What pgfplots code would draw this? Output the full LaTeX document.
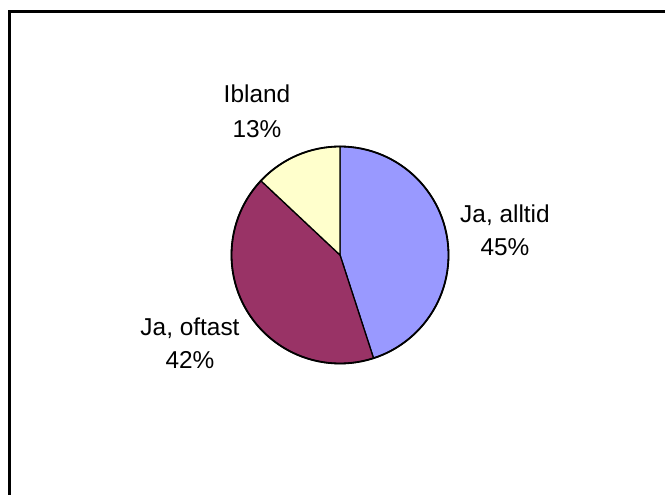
\documentclass[border=0pt]{standalone}
\usepackage{fontspec}
\setmainfont{Liberation Sans}
\usepackage{pgfplots}
\usepackage{pgfplotstable}
\pgfplotsset{compat=1.18}

\definecolor{pieA}{HTML}{9999FF}
\definecolor{pieB}{HTML}{993366}
\definecolor{pieC}{HTML}{FFFFCC}

% shares in percent: Ja, alltid / Ja, oftast / Ibland
\pgfplotstableread{
share
45
42
13
}\piedata

\begin{document}
\begin{tikzpicture}[
    lbl/.style={font=\fontsize{24.5}{29}\selectfont, anchor=base, inner sep=0pt},
  ]
  \pgfplotstablegetelem{0}{share}\of\piedata \let\va\pgfplotsretval
  \pgfplotstablegetelem{1}{share}\of\piedata \let\vb\pgfplotsretval
  \pgfplotstablegetelem{2}{share}\of\piedata \let\vc\pgfplotsretval
  \pgfmathsetmacro\angA{90-3.6*\va}
  \pgfmathsetmacro\angB{\angA-3.6*\vb}
  \pgfmathsetmacro\angC{\angB-3.6*\vc}
  \begin{axis}[
      x=1bp, y=1bp, scale only axis, hide axis,
      xmin=0, xmax=665, ymin=0, ymax=495,
      at={(0,0)}, anchor=south west,
    ]
    % chart area frame (right and bottom edges fall outside the picture)
    \draw[line width=2.8bp] (axis cs:9.5,-20) -- (axis cs:9.5,483.7) -- (axis cs:700,483.7);

    \def\cx{340}\def\cy{240}\def\r{108.5bp}
    \filldraw[fill=pieA, draw=black, line width=1.3bp]
      (axis cs:\cx,\cy) -- ++(90:\r) arc[start angle=90, end angle=\angA, radius=\r] -- cycle;
    \filldraw[fill=pieB, draw=black, line width=1.3bp]
      (axis cs:\cx,\cy) -- ++(\angA:\r) arc[start angle=\angA, end angle=\angB, radius=\r] -- cycle;
    \filldraw[fill=pieC, draw=black, line width=1.3bp]
      (axis cs:\cx,\cy) -- ++(\angB:\r) arc[start angle=\angB, end angle=\angC, radius=\r] -- cycle;
    \draw[black, line width=1.8bp] (axis cs:\cx,\cy) circle[radius=\r];

    \node[lbl] at (axis cs:257,392) {Ibland};
    \node[lbl] at (axis cs:257,358) {13\%};
    \node[lbl] at (axis cs:505,273) {Ja, alltid};
    \node[lbl] at (axis cs:505,240) {45\%};
    \node[lbl] at (axis cs:190,160) {Ja, oftast};
    \node[lbl] at (axis cs:190,127) {42\%};
  \end{axis}
  \pgfresetboundingbox
  \useasboundingbox (0,0) rectangle (665bp,495bp);
\end{tikzpicture}
\end{document}
